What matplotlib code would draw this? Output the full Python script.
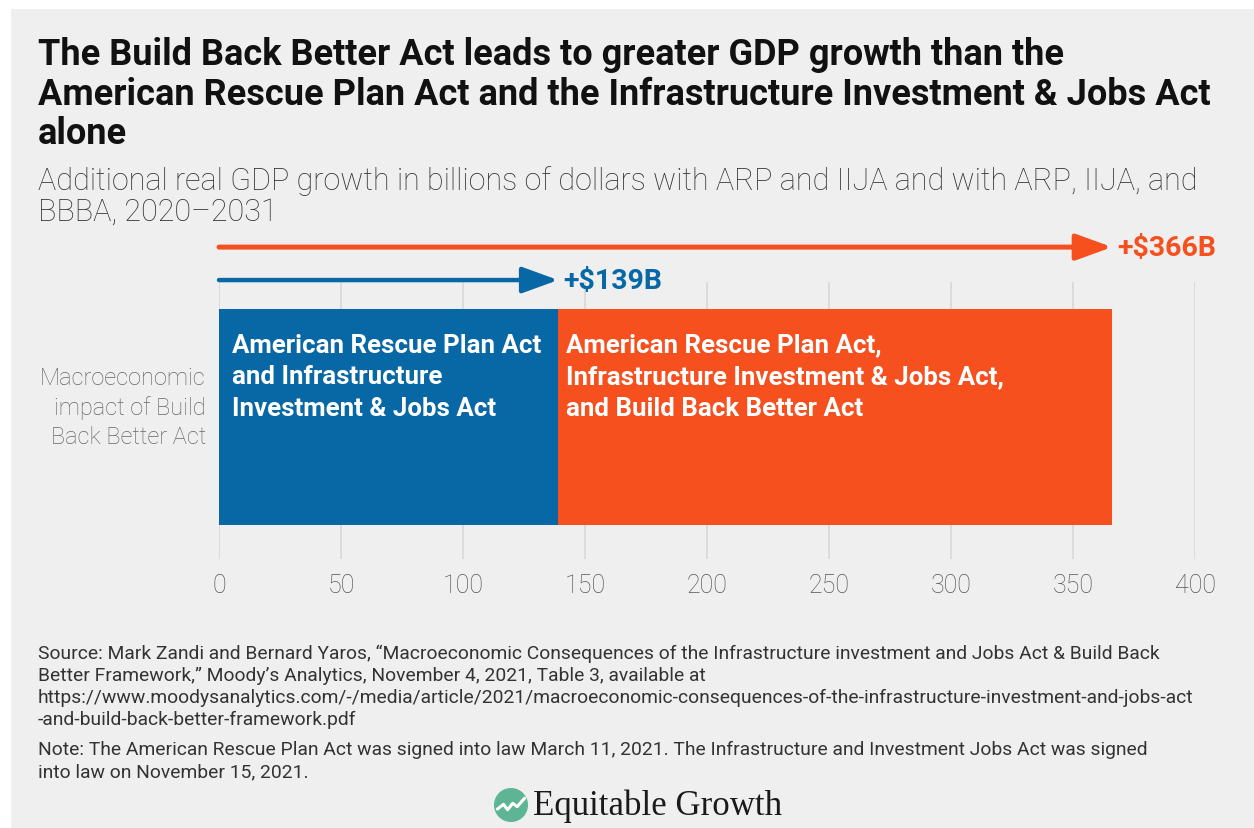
import matplotlib
matplotlib.use("Agg")
import matplotlib.pyplot as plt
from matplotlib.patches import Rectangle, Circle

# ---- data ----
categories = ["Macroeconomic\nimpact of Build\nBack Better Act"]
arp_iija = [139]            # billions of dollars, ARP + IIJA
arp_iija_bbba = [366]       # billions of dollars, ARP + IIJA + BBBA
segment_labels = [
    "American Rescue Plan Act\nand Infrastructure\nInvestment & Jobs Act",
    "American Rescue Plan Act,\nInfrastructure Investment & Jobs Act,\nand Build Back Better Act",
]
x_ticks = [0, 50, 100, 150, 200, 250, 300, 350, 400]
x_tick_labels = ["0", "50", "100", "150", "200", "250", "300", "350", "400"]

title = ("The Build Back Better Act leads to greater GDP growth than the\n"
         "American Rescue Plan Act and the Infrastructure Investment & Jobs Act\n"
         "alone")
subtitle = ("Additional real GDP growth in billions of dollars with ARP and IIJA and with ARP, IIJA, and\n"
            "BBBA, 2020\u20132031")
source = ("Source: Mark Zandi and Bernard Yaros, \u201cMacroeconomic Consequences of the Infrastructure investment and Jobs Act & Build Back\n"
          "Better Framework,\u201d Moody\u2019s Analytics, November 4, 2021, Table 3, available at\n"
          "https://www.moodysanalytics.com/-/media/article/2021/macroeconomic-consequences-of-the-infrastructure-investment-and-jobs-act\n"
          "-and-build-back-better-framework.pdf")
note = ("Note: The American Rescue Plan Act was signed into law March 11, 2021. The Infrastructure and Investment Jobs Act was signed\n"
        "into law on November 15, 2021.")

BLUE = "#0868a6"
ORANGE = "#f5501e"
BG = "#efefef"
FONT = "Roboto"

W, H = 1254, 829
fig = plt.figure(figsize=(W / 100, H / 100), dpi=100)
fig.patch.set_facecolor("white")


def fx(x):
    return x / W


def fy(y):
    return 1 - y / H


# grey panel behind everything
fig.patches.append(Rectangle((fx(11), 0), 1, fy(10), transform=fig.transFigure,
                             facecolor=BG, edgecolor="none", zorder=-10))

# plotting area
ax = fig.add_axes([fx(219), fy(560), fx(1195) - fx(219), fy(283) - fy(560)])
ax.set_facecolor("none")
ax.set_xlim(0, 400)
ax.set_ylim(0, 1)
for s in ax.spines.values():
    s.set_visible(False)

for t in x_ticks:
    ax.axvline(t, color="#d9d9d9", lw=1.3, zorder=0)

bar_y = 0.5126
bar_h = 0.78
ax.barh(bar_y, arp_iija[0], left=0, height=bar_h, color=BLUE, zorder=2)
ax.barh(bar_y, arp_iija_bbba[0] - arp_iija[0], left=arp_iija[0], height=bar_h,
        color=ORANGE, zorder=2)

label_y = bar_y + 0.147
ax.text(5.3, label_y, segment_labels[0], color="white", fontsize=18.6,
        fontweight="bold", family=FONT, va="center", ha="left", linespacing=1.41, zorder=3)
ax.text(arp_iija[0] + 3.2, label_y, segment_labels[1], color="white", fontsize=18.6,
        fontweight="bold", family=FONT, va="center", ha="left", linespacing=1.41, zorder=3)

# arrows showing total growth
arrow_specs = [(arp_iija[0], 1.007, BLUE, 3.2), (arp_iija_bbba[0], 1.126, ORANGE, 3.6)]
for val, yy, col, lw in arrow_specs:
    ax.annotate("", xy=(val, yy), xytext=(0, yy), xycoords="data", annotation_clip=False,
                arrowprops=dict(arrowstyle="-|>,head_length=2.2,head_width=0.8",
                                color=col, lw=lw, shrinkA=0, shrinkB=0))
    ax.text(val + 2.2, yy, f"+${val}B", color=col, fontsize=20.5, fontweight="bold",
            family=FONT, va="center", ha="left", clip_on=False)

ax.set_yticks([])
ax.set_xticks(x_ticks)
ax.set_xticklabels(x_tick_labels, family=FONT, fontweight="light", fontsize=18, color="#555555")
ax.tick_params(axis="x", length=0, pad=10)

# category label
fig.text(fx(206), fy(408), categories[0], ha="right", va="center", family=FONT,
         fontweight="light", fontsize=17, color="#666666", linespacing=1.31)

# headings
fig.text(fx(38), fy(37), title, ha="left", va="top", family=FONT, fontweight="bold",
         fontsize=26, color="#111111", linespacing=1.13)
fig.text(fx(38), fy(166), subtitle, ha="left", va="top", family=FONT, fontweight="light",
         fontsize=22, color="#333333", linespacing=1.09)

# notes
fig.text(fx(38), fy(645), source, ha="left", va="top", family=FONT, fontsize=13.9,
         color="#333333", linespacing=1.27)
fig.text(fx(38), fy(741), note, ha="left", va="top", family=FONT, fontsize=13.9,
         color="#333333", linespacing=1.27)

# logo
logo = fig.add_axes([fx(494), fy(823), fx(528) - fx(494), fy(789) - fy(823)])
logo.set_xlim(0, 1)
logo.set_ylim(0, 1)
logo.set_aspect("equal")
logo.axis("off")
logo.add_patch(Circle((0.5, 0.5), 0.48, color="#5db596"))
logo.plot([0.1, 0.28, 0.4, 0.55, 0.68, 0.9], [0.38, 0.52, 0.36, 0.55, 0.45, 0.7],
          color="white", lw=2.2, solid_capstyle="round", solid_joinstyle="round")
fig.text(fx(533), fy(806), "Equitable Growth", ha="left", va="center",
         family="Liberation Serif", fontsize=25, color="#1a1a1a")

fig.savefig("out.png", dpi=100, facecolor=fig.get_facecolor())
